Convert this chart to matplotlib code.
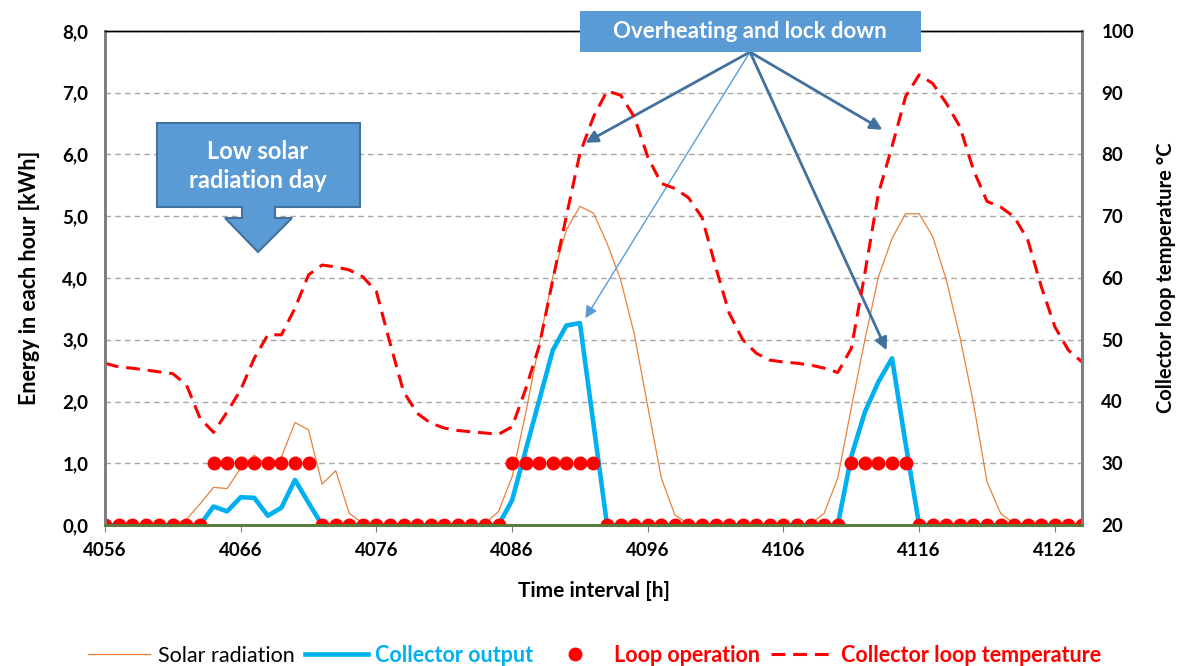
import numpy as np
import matplotlib
matplotlib.use("Agg")
import matplotlib.pyplot as plt
from matplotlib.patches import Polygon, Rectangle

plt.rcParams['font.family'] = ['Lato', 'DejaVu Sans']

# hourly data, 4056 .. 4128
hours = list(range(4056, 4129))

solar = [0, 0, 0, 0, 0, 0.0, 0.09, 0.34, 0.61, 0.59,
         0.92, 1.13, 0.96, 1.10, 1.66, 1.54, 0.66, 0.88, 0.19, 0.03,
         0, 0, 0, 0, 0, 0, 0, 0, 0.02, 0.22,
         0.78, 1.81, 2.94, 4.02, 4.78, 5.16, 5.05, 4.56, 3.97, 3.10,
         1.92, 0.76, 0.16, 0.02, 0, 0, 0, 0, 0, 0,
         0, 0, 0.02, 0.19, 0.76, 1.90, 3.00, 4.02, 4.64, 5.04,
         5.04, 4.67, 3.97, 3.05, 1.97, 0.70, 0.19, 0.02, 0, 0,
         0, 0, 0]

collector = [0, 0, 0, 0, 0, 0, 0, 0, 0.30, 0.22,
             0.45, 0.44, 0.15, 0.28, 0.73, 0.36, 0, 0, 0, 0,
             0, 0, 0, 0, 0, 0, 0, 0, 0, 0,
             0.40, 1.21, 2.02, 2.83, 3.23, 3.27, 1.63, 0, 0, 0,
             0, 0, 0, 0, 0, 0, 0, 0, 0, 0,
             0, 0, 0, 0, 0, 1.11, 1.83, 2.32, 2.70, 1.32,
             0, 0, 0, 0, 0, 0, 0, 0, 0, 0,
             0, 0, 0]

loop_on = [0, 0, 0, 0, 0, 0, 0, 0, 1, 1,
           1, 1, 1, 1, 1, 1, 0, 0, 0, 0,
           0, 0, 0, 0, 0, 0, 0, 0, 0, 0,
           1, 1, 1, 1, 1, 1, 1, 0, 0, 0,
           0, 0, 0, 0, 0, 0, 0, 0, 0, 0,
           0, 0, 0, 0, 0, 1, 1, 1, 1, 1,
           0, 0, 0, 0, 0, 0, 0, 0, 0, 0,
           0, 0, 0]

temp = [46.2, 45.6, 45.4, 45.1, 44.8, 44.5, 42.7, 37.3, 35.0, 38.3,
        41.9, 47.0, 50.8, 50.8, 55.1, 60.5, 62.1, 61.8, 61.3, 60.2,
        57.8, 49.5, 41.6, 38.1, 36.5, 35.7, 35.3, 35.1, 34.9, 34.7,
        35.9, 42.0, 49.0, 59.7, 70.0, 80.2, 86.1, 90.3, 89.6, 86.1,
        79.6, 75.3, 74.5, 73.0, 69.8, 61.8, 54.3, 50.0, 47.8, 46.7,
        46.4, 46.2, 45.9, 45.4, 44.7, 48.6, 60.8, 73.7, 81.3, 89.4,
        92.9, 91.5, 88.3, 84.5, 77.5, 72.4, 71.5, 69.9, 66.2, 58.6,
        52.1, 48.3, 46.4]

xticks = [4056, 4066, 4076, 4086, 4096, 4106, 4116, 4126]
left_ticks = [0, 1, 2, 3, 4, 5, 6, 7, 8]
left_labels = ["0,0", "1,0", "2,0", "3,0", "4,0", "5,0", "6,0", "7,0", "8,0"]
right_ticks = [20, 30, 40, 50, 60, 70, 80, 90, 100]

ORANGE = '#E8823A'
CYAN = '#00B0F0'
RED = '#FF0000'
BOXBLUE = '#5B9BD5'
DARKBLUE = '#41719C'

W, H = 1177, 666
fig = plt.figure(figsize=(W / 100, H / 100), dpi=100)
ax = fig.add_axes([105 / W, (H - 525) / H, (1082 - 105) / W, (525 - 31) / H])

def px(x, y):
    # pixel position from top-left -> figure fraction
    return (x / W, 1 - y / H)

ax.set_xlim(4056, 4128)
ax.set_ylim(0, 8)
ax.grid(axis='y', color='#A6A6A6', linestyle=(0, (4, 3)), linewidth=1)
ax.set_axisbelow(True)

l_solar, = ax.plot(hours, solar, color=ORANGE, lw=0.9, zorder=2)
l_coll, = ax.plot(hours, collector, color=CYAN, lw=3.3, zorder=3)
l_loop, = ax.plot(hours, loop_on, 'o', color=RED, ms=9, linestyle='none', zorder=4)

ax2 = ax.twinx()
ax2.set_ylim(20, 100)
l_temp, = ax2.plot(hours, temp, color=RED, lw=2.2, linestyle=(0, (4.5, 2.6)))

tick_fs = 13.5
ax.set_xticks(xticks)
ax.set_xticklabels([str(t) for t in xticks], fontsize=tick_fs, fontweight='bold')
ax.set_yticks(left_ticks)
ax.set_yticklabels(left_labels, fontsize=tick_fs, fontweight='bold')
ax2.set_yticks(right_ticks)
ax2.set_yticklabels([str(t) for t in right_ticks], fontsize=tick_fs, fontweight='bold')

ax.tick_params(axis='x', length=5, color='#7F7F7F', pad=7)
ax.tick_params(axis='y', length=0, pad=12)
ax2.tick_params(axis='y', length=0, pad=14)

for a in (ax, ax2):
    a.spines['left'].set_color('#7F7F7F')
    a.spines['left'].set_linewidth(2)
    a.spines['right'].set_color('#7F7F7F')
    a.spines['right'].set_linewidth(2)
    a.spines['bottom'].set_color('#5A7D3A')
    a.spines['bottom'].set_linewidth(2)
    a.spines['top'].set_color('black')
    a.spines['top'].set_linewidth(1)

ax.set_xlabel("Time interval [h]", fontsize=15, fontweight='bold', labelpad=16)
ax.set_ylabel("Energy in each hour [kWh]", fontsize=15.5, fontweight='bold', labelpad=16)
ax2.set_ylabel("Collector loop temperature °C", fontsize=14.5, fontweight='bold', labelpad=16)

# "Low solar radiation day" down-arrow callout
callout = [(157, 123), (360, 123), (360, 207), (275, 207), (275, 218), (292, 218),
           (258, 252), (225, 218), (242, 218), (242, 207), (157, 207)]
fig.add_artist(Polygon([px(x, y) for x, y in callout], closed=True, transform=fig.transFigure,
                       facecolor=BOXBLUE, edgecolor=DARKBLUE, lw=1.5, zorder=10))
fig.text(*px(258, 166), "Low solar\nradiation day", ha='center', va='center', color='white',
         fontsize=17, fontweight='bold', linespacing=1.3, zorder=11)

# "Overheating and lock down" box with arrows
bx0, by0 = px(580, 52)
bx1, by1 = px(921, 11)
fig.add_artist(Rectangle((bx0, by0), bx1 - bx0, by1 - by0, transform=fig.transFigure,
                         facecolor=BOXBLUE, edgecolor='none', zorder=10))
fig.text(*px(750, 31), "Overheating and lock down", ha='center', va='center', color='white',
         fontsize=16, fontweight='bold', zorder=11)

start = px(750, 52)
targets = [((4091.4, 6.19), DARKBLUE, 2.0),
           ((4091.4, 3.35), BOXBLUE, 1.0),
           ((4113.3, 6.40), DARKBLUE, 2.0),
           ((4113.6, 2.83), DARKBLUE, 2.0)]
for (tx, ty), c, lw in targets:
    ax.annotate("", xy=(tx, ty), xycoords='data', xytext=start, textcoords='figure fraction',
                arrowprops=dict(arrowstyle='-|>', color=c, lw=lw, mutation_scale=18,
                                shrinkA=0, shrinkB=0), zorder=9, annotation_clip=False)

# legend along the bottom
handles = [l_solar, l_coll, l_loop, l_temp]
labels = ["Solar radiation", "Collector output", "Loop operation", "Collector loop temperature"]
leg = fig.legend(handles, labels, loc='center', bbox_to_anchor=(0.505, 1 - 655 / H), ncol=4,
                 frameon=False, fontsize=15.5, handlelength=2.9, columnspacing=0.5,
                 handletextpad=0.35)
text_styles = [('black', 'normal'), (CYAN, 'bold'), (RED, 'bold'), (RED, 'bold')]
for t, (c, w) in zip(leg.get_texts(), text_styles):
    t.set_color(c)
    t.set_fontweight(w)

fig.savefig("out.png", dpi=100)
